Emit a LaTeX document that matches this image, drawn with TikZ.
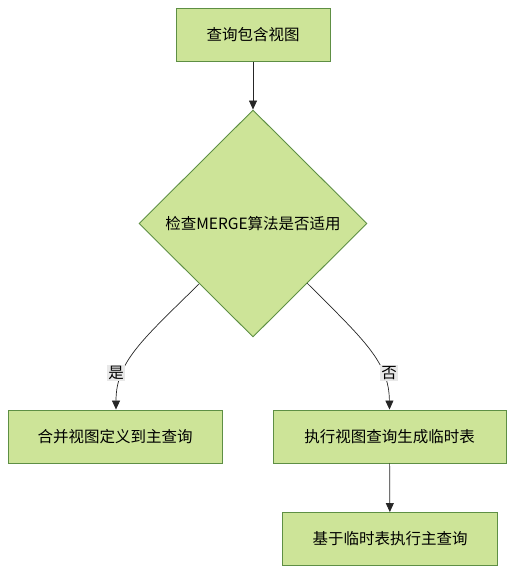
\documentclass[tikz,border=0pt]{standalone}
\usepackage{fontspec}
\setmainfont{Noto Sans CJK SC}
\usetikzlibrary{arrows.meta,shapes.geometric}
\definecolor{boxfill}{HTML}{CDE498}
\definecolor{boxline}{HTML}{5E8F44}
\definecolor{lblbg}{HTML}{E8E8E8}
\tikzset{
  procbox/.style={draw=boxline, fill=boxfill, line width=0.9pt, minimum height=53pt, inner sep=0pt, font=\fontsize{15.5}{18}\selectfont},
  decide/.style={draw=boxline, fill=boxfill, line width=0.9pt, diamond, minimum width=228pt, minimum height=227pt, inner sep=0pt, font=\fontsize{15.5}{18}\selectfont},
  conn/.style={draw=black!85, line width=0.7pt, -{Triangle[width=8pt,length=9pt]}},
  lbl/.style={fill=lblbg, inner sep=1.5pt, font=\fontsize{15.5}{18}\selectfont}
}
\begin{document}
\begin{tikzpicture}[x=1pt,y=-1pt]
\useasboundingbox (0,0) rectangle (522,583);
\node[procbox, minimum width=154pt] (a) at (253,35) {查询包含视图};
\node[decide] (b) at (253,223.5) {检查MERGE算法是否适用};
\node[procbox, minimum width=214pt] (c) at (115,436.5) {合并视图定义到主查询};
\node[procbox, minimum width=233pt] (d) at (389.5,436.5) {执行视图查询生成临时表};
\node[procbox, minimum width=215pt] (e) at (390,539) {基于临时表执行主查询};
\coordinate (bl) at (199,284);
\coordinate (br) at (307,283);
\draw[conn] (a) -- (b);
\draw[conn] (bl) .. controls (142,340) and (116,362) .. ([xshift=1pt]c.north);
\draw[conn] (br) .. controls (364,340) and (389,362) .. (d.north);
\draw[conn] (d) -- (e);
\node[lbl] (yes) at (116,373) {是};
\node[lbl] (no) at (389,373) {否};
\end{tikzpicture}
\end{document}
